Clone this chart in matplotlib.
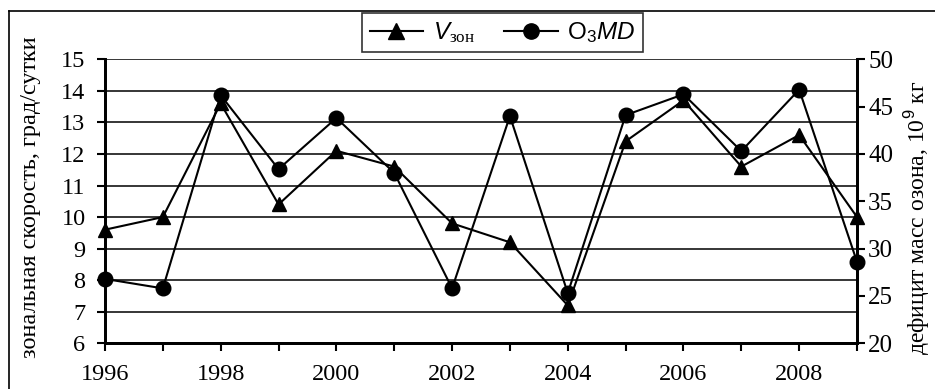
import matplotlib
matplotlib.use("Agg")
from matplotlib import pyplot as plt
from matplotlib.lines import Line2D

years = list(range(1996, 2010))
v_zon = [9.6, 10.0, 13.6, 10.4, 12.1, 11.6, 9.8, 9.2, 7.2, 12.4, 13.7, 11.6, 12.6, 10.0]
o3_md = [26.8, 25.8, 46.2, 38.4, 43.8, 38.0, 25.8, 44.0, 25.3, 44.1, 46.3, 40.3, 46.8, 28.6]
left_ticks = list(range(6, 16))
right_ticks = list(range(20, 51, 5))
year_labels = [str(y) if y % 2 == 0 and y < 2009 else "" for y in years]

plt.rcParams["font.family"] = ["Liberation Serif", "DejaVu Serif"]
plt.rcParams["mathtext.fontset"] = "custom"
plt.rcParams["mathtext.rm"] = "Liberation Sans"
plt.rcParams["mathtext.it"] = "Liberation Sans:italic"
plt.rcParams["mathtext.sf"] = "Liberation Serif"

fig = plt.figure(figsize=(9.35, 3.89), dpi=100)
ax = fig.add_axes([0.1123, 0.1175, 0.8043, 0.7301])
ax2 = ax.twinx()

ax.set_xlim(1996, 2009)
ax.set_ylim(6, 15)
ax2.set_ylim(20, 50)

for y in left_ticks:
    ax.axhline(y, color="black", lw=1.1, zorder=1)

ax.plot(years, v_zon, color="black", lw=1.5, marker="^", ms=10.5, clip_on=False, zorder=3)
ax2.plot(years, o3_md, color="black", lw=1.5, marker="o", ms=10.5, clip_on=False, zorder=3)

ax.set_xticks(years)
ax.set_xticklabels(year_labels)
ax.set_yticks(left_ticks)
ax2.set_yticks(right_ticks)

for a in (ax, ax2):
    a.tick_params(direction="out", length=6, width=1.5, labelsize=17.5, colors="black")
    for side in ("left", "right", "bottom"):
        a.spines[side].set_linewidth(2)
    a.spines["top"].set_visible(False)
ax.tick_params(axis="x", pad=9)
ax.tick_params(axis="y", pad=8)
ax2.tick_params(axis="y", pad=2, labelsize=18)

ax.set_ylabel("зональная скорость, град/сутки", fontsize=17.5)
ax2.set_ylabel("дефицит масс озона, 10$^9$ кг", fontsize=17)
ax.yaxis.set_label_coords(-0.085, 0.515)
ax2.yaxis.set_label_coords(1.059, 0.44)

handles = [
    Line2D([], [], color="black", lw=1.5, marker="^", ms=11),
    Line2D([], [], color="black", lw=1.5, marker="o", ms=11),
]
labels = [r"$V_{\mathsf{зон}}$", r"$\mathrm{O}_{\mathrm{3}}\mathit{MD}$"]
leg = fig.legend(handles, labels, loc="upper center", bbox_to_anchor=(0.5374, 0.9666), ncol=2,
                 frameon=True, fancybox=False, edgecolor="black", fontsize=17.5,
                 handlelength=2.2, handletextpad=0.4, columnspacing=1.2, borderpad=0.3,
                 borderaxespad=0)
leg.get_frame().set_linewidth(1.2)

# outer frame
fig.add_artist(Line2D([0.0096, 0.0096], [0, 0.972], transform=fig.transFigure, color="black", lw=1.2))
fig.add_artist(Line2D([0.0096, 1.0], [0.972, 0.972], transform=fig.transFigure, color="black", lw=1.2))

fig.savefig("out.png", dpi=100)
